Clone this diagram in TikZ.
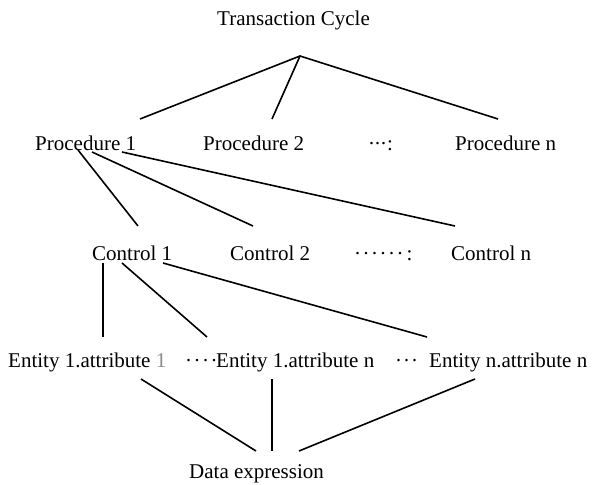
\documentclass[tikz,border=0pt]{standalone}
\usepackage{fontspec}
\setmainfont{Liberation Serif}
\begin{document}
\begin{tikzpicture}[x=1pt,y=-1pt,
  lbl/.style={anchor=base west, inner sep=0pt, font=\fontsize{21}{25}\selectfont},
  link/.style={line width=1.6pt, black},
  heavylink/.style={line width=2.4pt, black}]
\useasboundingbox (0,0) rectangle (596,484);

% level 0
\node[lbl] (tc) at (217,26) {Transaction Cycle};
\coordinate (hub) at (300,56);

% level 1: procedures
\node[lbl] (p1) at (35,150) {Procedure 1};
\node[lbl] (p2) at (203,150) {Procedure 2};
\node[lbl] (pd) at (368,150) {·\kern-1pt·\kern-1pt·\kern0pt:};
\node[lbl] (pn) at (455,150) {Procedure n};

% level 2: controls
\node[lbl] (c1) at (92,260) {Control 1};
\node[lbl] (c2) at (230,260) {Control 2};
\node[lbl] (cd) at (354,260) {·\kern1.5pt·\kern1.5pt·\kern1.5pt·\kern1.5pt·\kern1.5pt·\kern3pt:};
\node[lbl] (cn) at (451,260) {Control n};

% level 3: entity attributes
\node[lbl] (e1) at (8,367) {Entity 1.attribute \textcolor[gray]{0.55}{1}};
\node[lbl] (ed1) at (185,367) {·\kern1.5pt·\kern1.5pt·\kern1.5pt·};
\node[lbl] (e2) at (216,367) {Entity 1.attribute n};
\node[lbl] (ed2) at (395,367) {·\kern1pt·\kern1pt·};
\node[lbl] (e3) at (429,367) {Entity n.attribute n};

% level 4
\node[lbl] (de) at (189,478) {Data expression};

% connector end points
\coordinate (tcL) at (140,119);
\coordinate (tcM) at (272,119);
\coordinate (tcR) at (498,119);

\coordinate (p1a) at (78,150);
\coordinate (p1b) at (92,152);
\coordinate (p1c) at (122,152);
\coordinate (c1in) at (138,226);
\coordinate (c2in) at (253,226);
\coordinate (cnin) at (455,226);

\coordinate (c1a) at (103,263);
\coordinate (c1b) at (122,263);
\coordinate (c1c) at (163,263);
\coordinate (e1in) at (103,337);
\coordinate (e2in) at (207,337);
\coordinate (e3in) at (427,337);

\coordinate (e1out) at (141,379);
\coordinate (e2out) at (272,379);
\coordinate (e3out) at (475,379);
\coordinate (deL) at (256,451);
\coordinate (deM) at (272,451);
\coordinate (deR) at (299,451);

% transaction cycle fan-out
\draw[link] (tcL) -- (hub) -- (tcR);
\draw[link] (hub) -- (tcM);

% procedure 1 to controls
\draw[link] (p1a) -- (c1in);
\draw[link] (p1b) -- (c2in);
\draw[link] (p1c) -- (cnin);

% control 1 to entity attributes
\draw[heavylink] (c1a) -- (e1in);
\draw[link] (c1b) -- (e2in);
\draw[link] (c1c) -- (e3in);

% entity attributes to data expression
\draw[link] (e1out) -- (deL);
\draw[link] (e2out) -- (deM);
\draw[link] (e3out) -- (deR);
\end{tikzpicture}
\end{document}
